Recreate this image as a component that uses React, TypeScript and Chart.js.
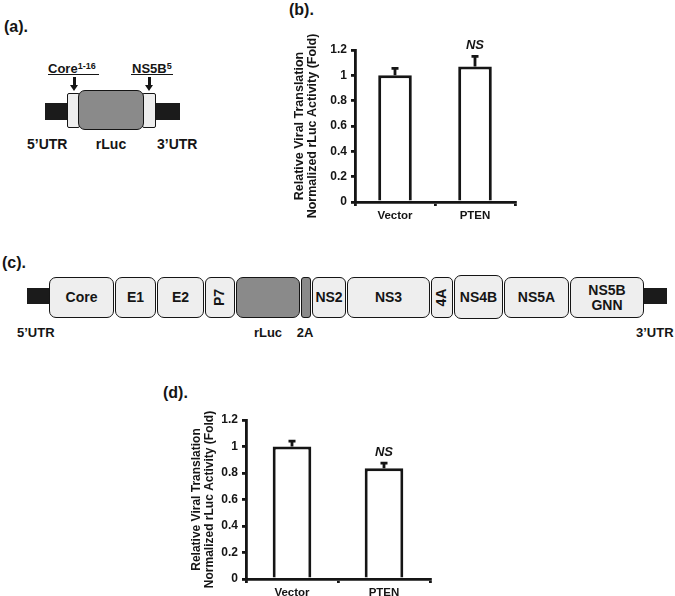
import React, { useEffect, useRef } from 'react';
import { Chart, registerables } from 'chart.js';

Chart.register(...registerables);

// ---------- data ----------
const categories = ['Vector', 'PTEN'];
const panelBValues = [1.0, 1.07];
const panelBErrors = [0.055, 0.08];
const panelDValues = [1.0, 0.835];
const panelDErrors = [0.04, 0.04];
const significance = ['', 'NS'];
const yTitleLines = ['Relative Viral Translation', 'Normalized rLuc Activity (Fold)'];
const yMin = 0;
const yMax = 1.2;
const yStep = 0.2;

const reporterLabels = ['5’UTR', 'rLuc', '3’UTR'];
const genomeSegments = ['Core', 'E1', 'E2', 'P7', '', '', 'NS2', 'NS3', '4A', 'NS4B', 'NS5A', 'NS5B\nGNN'];

const FONT = "Arial, 'Liberation Sans', Helvetica, sans-serif";
const INK = '#151515';

// ---------- error bar + significance plugin ----------
const errorBarPlugin = {
  id: 'errorBars',
  afterDatasetsDraw(chart: any, _args: any, opts: any) {
    const { ctx } = chart;
    const meta = chart.getDatasetMeta(0);
    const yScale = chart.scales.y;
    const data = chart.data.datasets[0].data as number[];
    ctx.save();
    meta.data.forEach((bar: any, i: number) => {
      const topPx = yScale.getPixelForValue(data[i] + opts.errors[i]);
      ctx.strokeStyle = INK;
      ctx.lineWidth = 2.8;
      ctx.lineCap = 'butt';
      ctx.beginPath();
      ctx.moveTo(bar.x, bar.y);
      ctx.lineTo(bar.x, topPx);
      ctx.moveTo(bar.x - 3.5, topPx);
      ctx.lineTo(bar.x + 3.5, topPx);
      ctx.stroke();
      const lab = opts.labels[i];
      if (lab) {
        ctx.fillStyle = INK;
        ctx.font = `italic bold 13px ${FONT}`;
        ctx.textAlign = 'center';
        ctx.textBaseline = 'middle';
        ctx.fillText(lab, bar.x, topPx - 11);
      }
    });
    ctx.restore();
  },
};

// ---------- two-line rotated y-axis title (no width squeezing) ----------
const yTitlePlugin = {
  id: 'yTitle',
  afterDraw(chart: any, _args: any, opts: any) {
    const { ctx, chartArea } = chart;
    const yScale = chart.scales.y;
    const cy = (chartArea.top + chartArea.bottom) / 2;
    ctx.save();
    ctx.translate(yScale.left + opts.lineHeight / 2, cy);
    ctx.rotate(-Math.PI / 2);
    ctx.fillStyle = INK;
    ctx.font = `bold ${opts.size}px ${FONT}`;
    ctx.textAlign = 'center';
    ctx.textBaseline = 'middle';
    (opts.lines as string[]).forEach((line, i) => {
      ctx.fillText(line, 0, i * opts.lineHeight);
    });
    ctx.restore();
  },
};

type PanelProps = {
  values: number[];
  errors: number[];
  left: number;
  top: number;
  width: number;
  height: number;
  padTop: number;
  padRight: number;
  padBottom: number;
  yAxisWidth: number;
  xAxisHeight: number;
  titleSize: number;
};

function BarPanel(p: PanelProps) {
  const ref = useRef<HTMLCanvasElement | null>(null);
  useEffect(() => {
    if (!ref.current) return;
    const chart = new Chart(ref.current, {
      type: 'bar',
      data: {
        labels: categories,
        datasets: [
          {
            data: p.values,
            backgroundColor: '#ffffff',
            borderColor: INK,
            borderWidth: 3,
            borderSkipped: 'bottom',
            categoryPercentage: 1,
            barPercentage: 0.42,
          },
        ],
      },
      options: {
        responsive: false,
        animation: false,
        devicePixelRatio: 1,
        layout: { padding: { top: p.padTop, right: p.padRight, left: 0, bottom: p.padBottom } },
        plugins: {
          legend: { display: false },
          tooltip: { enabled: false },
          errorBars: { errors: p.errors, labels: significance },
          yTitle: { lines: yTitleLines, size: p.titleSize, lineHeight: 13 },
        } as any,
        scales: {
          x: {
            type: 'category',
            offset: true,
            grid: {
              display: true,
              offset: true,
              drawOnChartArea: false,
              drawTicks: true,
              tickLength: 4,
              color: INK,
              lineWidth: 2.8,
            },
            border: { display: true, color: INK, width: 2.8 },
            ticks: {
              color: INK,
              padding: 3,
              maxRotation: 0,
              font: { family: FONT, size: 11.5, weight: 'bold' },
            },
            afterFit: (s: any) => {
              s.height = p.xAxisHeight;
            },
          },
          y: {
            min: yMin,
            max: yMax,
            grid: {
              display: true,
              drawOnChartArea: false,
              drawTicks: true,
              tickLength: 4,
              color: INK,
              lineWidth: 2.8,
            },
            border: { display: true, color: INK, width: 2.8 },
            ticks: {
              stepSize: yStep,
              color: INK,
              padding: 4,
              font: { family: FONT, size: 12, weight: 'bold' },
              callback: (v: any) => String(Number(Number(v).toFixed(1))),
            },
            title: { display: false },
            afterFit: (s: any) => {
              s.width = p.yAxisWidth;
            },
          },
        },
      },
      plugins: [errorBarPlugin, yTitlePlugin],
    });
    return () => chart.destroy();
  }, []);
  return (
    <canvas
      ref={ref}
      width={p.width}
      height={p.height}
      style={{ position: 'absolute', left: p.left, top: p.top, width: p.width, height: p.height }}
    />
  );
}

// ---------- diagram helpers ----------
type BoxProps = {
  x0: number;
  x1: number;
  y0: number;
  y1: number;
  fill: string;
  r?: number;
  border?: boolean;
  children?: React.ReactNode;
  size?: number;
};

function Box({ x0, x1, y0, y1, fill, r = 0, border = true, children, size = 14 }: BoxProps) {
  return (
    <div
      style={{
        position: 'absolute',
        left: x0,
        top: y0,
        width: x1 - x0,
        height: y1 - y0,
        boxSizing: 'border-box',
        border: border ? `1.5px solid ${INK}` : 'none',
        borderRadius: r,
        background: fill,
        display: 'flex',
        alignItems: 'center',
        justifyContent: 'center',
        textAlign: 'center',
        fontFamily: FONT,
        fontWeight: 'bold',
        fontSize: size,
        lineHeight: `${Math.round(size * 1.05)}px`,
        color: INK,
        whiteSpace: 'pre',
      }}
    >
      {children}
    </div>
  );
}

function Label({
  x,
  cy,
  size,
  center = false,
  italic = false,
  children,
}: {
  x: number;
  cy: number;
  size: number;
  center?: boolean;
  italic?: boolean;
  children: React.ReactNode;
}) {
  const lh = Math.round(size * 1.2);
  return (
    <div
      style={{
        position: 'absolute',
        left: x,
        top: cy - lh / 2,
        height: lh,
        lineHeight: `${lh}px`,
        fontFamily: FONT,
        fontWeight: 'bold',
        fontStyle: italic ? 'italic' : 'normal',
        fontSize: size,
        color: INK,
        whiteSpace: 'nowrap',
        transform: center ? 'translateX(-50%)' : undefined,
      }}
    >
      {children}
    </div>
  );
}

function Arrow({ x, y0, y1 }: { x: number; y0: number; y1: number }) {
  return (
    <>
      <div style={{ position: 'absolute', left: x - 1.5, top: y0, width: 3, height: y1 - y0 - 5, background: INK }} />
      <div
        style={{
          position: 'absolute',
          left: x - 4.5,
          top: y1 - 6,
          width: 0,
          height: 0,
          borderLeft: '4.5px solid transparent',
          borderRight: '4.5px solid transparent',
          borderTop: `6px solid ${INK}`,
        }}
      />
    </>
  );
}

function Rot({ children }: { children: React.ReactNode }) {
  return <span style={{ display: 'inline-block', transform: 'rotate(-90deg)' }}>{children}</span>;
}

const LIGHT = '#eeeeee';
const GRAY = '#8a8a8a';
const BLACK = '#1b1b1b';

function PanelA() {
  return (
    <>
      <Label x={4} cy={26} size={16}>(a).</Label>
      <Box x0={45} x1={70} y0={103} y1={120} fill={BLACK} border={false} />
      <Box x0={155} x1={180} y0={103} y1={120} fill={BLACK} border={false} />
      <Box x0={67} x1={80} y0={93} y1={128} fill={LIGHT} r={2} />
      <Box x0={142} x1={156} y0={93} y1={128} fill={LIGHT} r={2} />
      <Box x0={78} x1={144} y0={90} y1={130} fill={GRAY} r={7} />
      <Label x={48} cy={66} size={13}>
        Core<sup style={{ fontSize: 9, verticalAlign: 4 }}>1-16</sup>
      </Label>
      <div style={{ position: 'absolute', left: 48, top: 73.5, width: 51, height: 1.5, background: INK }} />
      <Arrow x={74} y0={77} y1={91} />
      <Label x={132} cy={66} size={13}>
        NS5B<sup style={{ fontSize: 9, verticalAlign: 4 }}>5</sup>
      </Label>
      <div style={{ position: 'absolute', left: 131, top: 73.5, width: 42, height: 1.5, background: INK }} />
      <Arrow x={149} y0={77} y1={91} />
      <Label x={27} cy={144} size={14}>{reporterLabels[0]}</Label>
      <Label x={111} cy={144} size={14} center>{reporterLabels[1]}</Label>
      <Label x={157} cy={144} size={14}>{reporterLabels[2]}</Label>
    </>
  );
}

function PanelC() {
  const s = genomeSegments;
  return (
    <>
      <Label x={2} cy={262} size={16}>(c).</Label>
      <Box x0={27} x1={51} y0={288} y1={304} fill={BLACK} border={false} />
      <Box x0={642} x1={667} y0={288} y1={304} fill={BLACK} border={false} />
      <Box x0={49} x1={114} y0={277} y1={318} fill={LIGHT} r={7}>{s[0]}</Box>
      <Box x0={115} x1={156} y0={277} y1={318} fill={LIGHT} r={7}>{s[1]}</Box>
      <Box x0={157} x1={204} y0={277} y1={318} fill={LIGHT} r={7}>{s[2]}</Box>
      <Box x0={205} x1={235} y0={277} y1={318} fill={LIGHT} r={6}>
        <Rot>{s[3]}</Rot>
      </Box>
      <Box x0={236} x1={300} y0={277} y1={318} fill={GRAY} r={7} />
      <Box x0={301} x1={311} y0={277} y1={318} fill={GRAY} r={3} />
      <Box x0={312} x1={346} y0={277} y1={318} fill={LIGHT} r={6}>{s[6]}</Box>
      <Box x0={347} x1={430} y0={277} y1={318} fill={LIGHT} r={7}>{s[7]}</Box>
      <Box x0={431} x1={453} y0={277} y1={318} fill={LIGHT} r={5}>
        <Rot>{s[8]}</Rot>
      </Box>
      <Box x0={454} x1={503} y0={275} y1={319} fill={LIGHT} r={7}>{s[9]}</Box>
      <Box x0={504} x1={569} y0={277} y1={318} fill={LIGHT} r={7}>{s[10]}</Box>
      <Box x0={570} x1={644} y0={277} y1={318} fill={LIGHT} r={7}>{s[11]}</Box>
      <Label x={17} cy={333} size={13}>{reporterLabels[0]}</Label>
      <Label x={268} cy={333} size={13} center>{reporterLabels[1]}</Label>
      <Label x={305} cy={333} size={13} center>2A</Label>
      <Label x={636} cy={333} size={13}>{reporterLabels[2]}</Label>
    </>
  );
}

export default function App() {
  return (
    <div
      style={{
        position: 'absolute',
        left: 0,
        top: 0,
        width: 675,
        height: 596,
        overflow: 'hidden',
        background: '#ffffff',
      }}
    >
      <PanelA />
      <Label x={289} cy={9} size={16}>(b).</Label>
      <BarPanel
        values={panelBValues}
        errors={panelBErrors}
        left={293}
        top={30}
        width={235}
        height={196}
        padTop={20}
        padRight={13}
        padBottom={7}
        yAxisWidth={62}
        xAxisHeight={17}
        titleSize={12.5}
      />
      <PanelC />
      <Label x={163} cy={392} size={16}>(d).</Label>
      <BarPanel
        values={panelDValues}
        errors={panelDErrors}
        left={190}
        top={400}
        width={252}
        height={196}
        padTop={20}
        padRight={12}
        padBottom={0}
        yAxisWidth={56}
        xAxisHeight={17}
        titleSize={12}
      />
    </div>
  );
}
